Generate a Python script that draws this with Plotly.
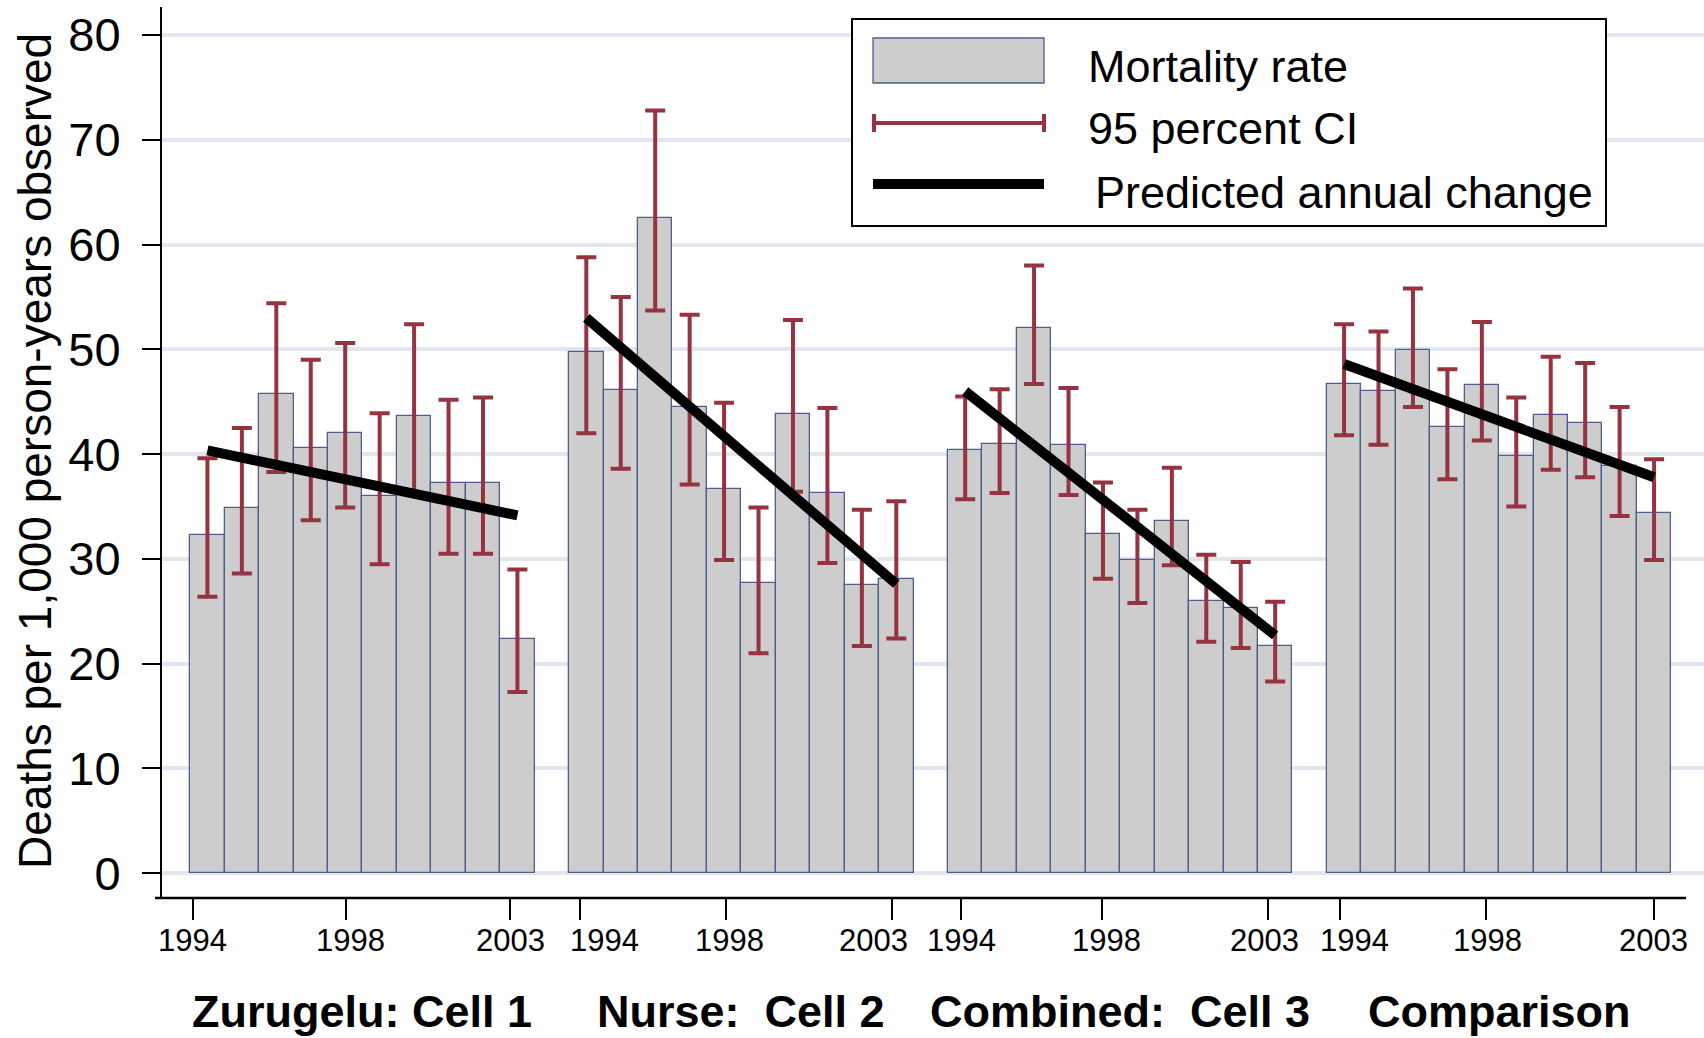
import plotly.graph_objects as go

# ---- data -------------------------------------------------------------
YEARS = list(range(1994, 2004))
GROUP_LABELS = ["Zurugelu: Cell 1", "Nurse:\u00a0 Cell 2", "Combined:\u00a0 Cell 3", "Comparison"]
TICK_YEARS = ["1994", "1998", "2003"]

# Mortality rate (deaths per 1,000 person-years observed)
RATE_CELL1 = [32.3, 34.9, 45.7, 40.6, 42.0, 36.0, 43.6, 37.2, 37.2, 22.4]
RATE_CELL2 = [49.7, 46.1, 62.5, 44.5, 36.7, 27.7, 43.8, 36.3, 27.5, 28.1]
RATE_CELL3 = [40.4, 41.0, 52.0, 40.9, 32.4, 29.9, 33.6, 26.0, 25.3, 21.7]
RATE_COMP = [46.7, 46.0, 49.9, 42.6, 46.6, 39.8, 43.7, 43.0, 38.9, 34.4]

# 95 percent confidence interval bounds
UPPER_CELL1 = [39.6, 42.5, 54.4, 49.0, 50.6, 43.9, 52.4, 45.2, 45.4, 29.0]
LOWER_CELL1 = [26.4, 28.6, 38.3, 33.7, 34.9, 29.5, 36.2, 30.5, 30.5, 17.3]
UPPER_CELL2 = [58.8, 55.0, 72.8, 53.3, 44.9, 34.9, 52.8, 44.4, 34.7, 35.5]
LOWER_CELL2 = [42.0, 38.6, 53.7, 37.1, 29.9, 21.0, 36.4, 29.6, 21.7, 22.4]
UPPER_CELL3 = [45.5, 46.2, 58.0, 46.3, 37.3, 34.7, 38.7, 30.4, 29.7, 25.9]
LOWER_CELL3 = [35.7, 36.3, 46.7, 36.1, 28.1, 25.8, 29.4, 22.1, 21.5, 18.3]
UPPER_COMP = [52.4, 51.7, 55.8, 48.1, 52.6, 45.4, 49.3, 48.7, 44.5, 39.5]
LOWER_COMP = [41.8, 40.9, 44.5, 37.6, 41.3, 35.0, 38.5, 37.8, 34.1, 29.9]

# Predicted annual change: fitted value in 1994 and in 2003
TREND_1994 = [40.35, 53.0, 46.0, 48.6]
TREND_2003 = [34.15, 27.6, 22.7, 37.8]

RATES = [RATE_CELL1, RATE_CELL2, RATE_CELL3, RATE_COMP]
UPPERS = [UPPER_CELL1, UPPER_CELL2, UPPER_CELL3, UPPER_COMP]
LOWERS = [LOWER_CELL1, LOWER_CELL2, LOWER_CELL3, LOWER_COMP]

# ---- style ------------------------------------------------------------
W, H = 1704, 1038
L, R, T, B = 162, 0, 7, 140
FONT = "Liberation Sans, Arial, Helvetica, sans-serif"
BAR_FILL = "#CDCDCD"
BAR_EDGE = "#4C5F8E"
CI_COLOR = "#953440"
GRID = "#E2E6F0"
SLOTS = 11                      # 10 years + one empty slot between groups
LEGEND_SIZE = 45
# tick marks and their year labels, in bar units inside each group;
# labels next to a neighbouring group are nudged apart so they do not collide
TICK_OFFSET = [[-0.41, 4.02, 8.79], [-0.18, 4.07, 8.87],
               [-0.13, 3.98, 8.79], [-0.13, 4.12, 9.0]]
LABEL_OFFSET = [[-0.42, 4.14, 8.79], [0.52, 4.17, 8.33],
                [-0.12, 4.09, 8.70], [0.29, 4.15, 8.97]]


def px_x(px):
    return (px - L) / (W - L - R)


def px_y(py):
    return (H - B - py) / (H - T - B)


fig = go.Figure()

xs, ys, up, dn = [], [], [], []
for g in range(len(RATES)):
    for i in range(len(YEARS)):
        xs.append(g * SLOTS + i)
        ys.append(RATES[g][i])
        up.append(UPPERS[g][i] - RATES[g][i])
        dn.append(RATES[g][i] - LOWERS[g][i])

fig.add_trace(go.Bar(
    x=xs, y=ys, width=1.0,
    marker=dict(color=BAR_FILL, line=dict(color=BAR_EDGE, width=1.3)),
    error_y=dict(type="data", symmetric=False, array=up, arrayminus=dn,
                 color=CI_COLOR, thickness=4, width=10),
    showlegend=False, hoverinfo="skip",
))

for g in range(len(RATES)):
    fig.add_trace(go.Scatter(
        x=[g * SLOTS, g * SLOTS + len(YEARS) - 1],
        y=[TREND_1994[g], TREND_2003[g]],
        mode="lines", line=dict(color="black", width=10),
        showlegend=False, hoverinfo="skip",
    ))

tickvals = []
for g in range(len(RATES)):
    for off in TICK_OFFSET[g]:
        tickvals.append(g * SLOTS + off)

fig.update_xaxes(
    range=[-1.319, 43.45], tickmode="array", tickvals=tickvals,
    ticktext=[""] * len(tickvals), tickangle=0,
    ticks="outside", ticklen=21, tickwidth=1.5, tickcolor="black",
    showline=False, showgrid=False, zeroline=False,
)
fig.update_yaxes(
    range=[-2.36, 82.67], tickmode="array", tickvals=list(range(0, 90, 10)),
    ticks="outside", ticklen=18, tickwidth=2, tickcolor="black",
    tickfont=dict(family=FONT, size=47, color="black"),
    ticklabelstandoff=12,
    showline=True, linecolor="black", linewidth=2,
    showgrid=True, gridcolor=GRID, gridwidth=3.5, zeroline=False,
)

shapes = [
    # horizontal axis line
    dict(type="line", xref="paper", yref="paper", x0=px_x(155), x1=px_x(1686),
         y0=0, y1=0, line=dict(color="black", width=2.5)),
    # legend frame
    dict(type="rect", xref="paper", yref="paper", x0=px_x(852), x1=px_x(1606),
         y0=px_y(226), y1=px_y(19), fillcolor="white", line=dict(color="black", width=2)),
    # legend key: bar
    dict(type="rect", xref="paper", yref="paper", x0=px_x(873), x1=px_x(1044),
         y0=px_y(83), y1=px_y(38), fillcolor=BAR_FILL, line=dict(color=BAR_EDGE, width=1.3)),
    # legend key: confidence interval
    dict(type="line", xref="paper", yref="paper", x0=px_x(873), x1=px_x(1045),
         y0=px_y(123), y1=px_y(123), line=dict(color=CI_COLOR, width=4)),
    dict(type="line", xref="paper", yref="paper", x0=px_x(874), x1=px_x(874),
         y0=px_y(114), y1=px_y(132), line=dict(color=CI_COLOR, width=4)),
    dict(type="line", xref="paper", yref="paper", x0=px_x(1044), x1=px_x(1044),
         y0=px_y(114), y1=px_y(132), line=dict(color=CI_COLOR, width=4)),
    # legend key: trend line
    dict(type="line", xref="paper", yref="paper", x0=px_x(873), x1=px_x(1044),
         y0=px_y(184), y1=px_y(184), line=dict(color="black", width=10)),
]

annotations = [
    dict(text="Mortality rate", xref="paper", yref="paper", x=px_x(1086), y=px_y(66),
         xanchor="left", yanchor="middle", showarrow=False,
         font=dict(family=FONT, size=LEGEND_SIZE, color="black")),
    dict(text="95 percent CI", xref="paper", yref="paper", x=px_x(1086), y=px_y(128),
         xanchor="left", yanchor="middle", showarrow=False,
         font=dict(family=FONT, size=LEGEND_SIZE, color="black")),
    dict(text="Predicted annual change", xref="paper", yref="paper", x=px_x(1093), y=px_y(192),
         xanchor="left", yanchor="middle", showarrow=False,
         font=dict(family=FONT, size=LEGEND_SIZE, color="black")),
    dict(text="Deaths per 1,000 person-years observed", xref="paper", yref="paper",
         x=px_x(35), y=px_y(451), textangle=-90, xanchor="center", yanchor="middle",
         showarrow=False, font=dict(family=FONT, size=46, color="black")),
]
# year labels under the tick marks
for g in range(len(RATES)):
    for off, lab in zip(LABEL_OFFSET[g], TICK_YEARS):
        annotations.append(dict(
            text=lab, xref="x", yref="paper", x=g * SLOTS + off, y=px_y(940),
            xanchor="center", yanchor="middle", showarrow=False,
            font=dict(family=FONT, size=31, color="black"),
        ))
# group names
for g, lab in enumerate(GROUP_LABELS):
    annotations.append(dict(
        text="<b>%s</b>" % lab, xref="x", yref="paper",
        x=g * SLOTS + (len(YEARS) - 1) / 2, y=px_y(1011),
        xanchor="center", yanchor="middle", showarrow=False,
        font=dict(family=FONT, size=45, color="black"),
    ))

fig.update_layout(
    width=W, height=H, autosize=False,
    margin=dict(l=L, r=R, t=T, b=B, pad=0),
    paper_bgcolor="white", plot_bgcolor="white",
    bargap=0, showlegend=False,
    shapes=shapes, annotations=annotations,
)

fig.write_html("out.html")
